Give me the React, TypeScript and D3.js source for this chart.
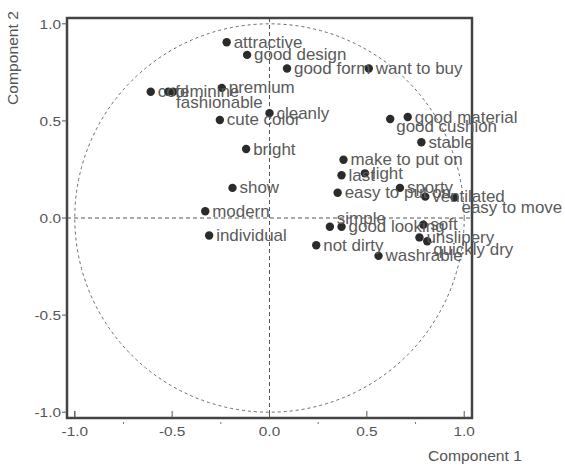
import React, { useEffect, useRef } from 'react';
import * as d3 from 'd3';

// loadings of each word on the first two components
const terms = [
  'attractive', 'good design', 'good form', 'want to buy', 'premium', 'cool', 'feminine', 'fashionable',
  'cleanly', 'cute color', 'bright', 'good cushion', 'good material', 'stable', 'make to put on', 'last',
  'light', 'easy to put on', 'sporty', 'ventilated', 'easy to move', 'show', 'modern', 'individual',
  'simple', 'good looking', 'soft', 'unslipery', 'quickly dry', 'not dirty', 'washrable',
];
const comp1 = [
  -0.22, -0.115, 0.09, 0.51, -0.245, -0.61, -0.52, -0.495,
  0.0, -0.255, -0.12, 0.62, 0.71, 0.78, 0.38, 0.37,
  0.49, 0.35, 0.67, 0.80, 0.95, -0.19, -0.33, -0.31,
  0.31, 0.37, 0.79, 0.77, 0.81, 0.24, 0.56,
];
const comp2 = [
  0.905, 0.84, 0.77, 0.77, 0.67, 0.65, 0.65, 0.65,
  0.54, 0.505, 0.355, 0.51, 0.52, 0.39, 0.30, 0.22,
  0.23, 0.13, 0.155, 0.11, 0.105, 0.155, 0.035, -0.09,
  -0.045, -0.045, -0.035, -0.10, -0.12, -0.14, -0.195,
];
const xTicks = [-1.0, -0.5, 0.0, 0.5, 1.0];
const yTicks = [-1.0, -0.5, 0.0, 0.5, 1.0];
const minorTicks = [-0.75, -0.25, 0.25, 0.75];

// labels nudged away from their neighbours
const nudge: Record<string, [number, number]> = {
  'fashionable': [3, 11],
  'good cushion': [6, 8],
  'easy to move': [7, 10],
  'simple': [7, -8],
  'quickly dry': [6, 8],
};

export default function App() {
  const ref = useRef<SVGSVGElement>(null);

  useEffect(() => {
    const svg = d3.select(ref.current);
    svg.selectAll('*').remove();

    const left = 67, right = 472, top = 18, bottom = 418;
    const x = d3.scaleLinear().domain([-1.04, 1.04]).range([left, right]);
    const y = d3.scaleLinear().domain([-1.03, 1.03]).range([bottom, top]);
    const font = 'Liberation Sans, Arial, sans-serif';
    const fmt = (t: number) => d3.format('.1f')(t).replace('−', '-');
    // the original text is a bit wide, so stretch glyphs sideways
    const wide = (px: number, py: number, k = 1.14) => `translate(${px},${py}) scale(${k},1)`;

    svg.append('rect').attr('width', 565).attr('height', 471).attr('fill', '#fff');

    // unit circle and zero lines
    svg.append('ellipse')
      .attr('cx', x(0)).attr('cy', y(0))
      .attr('rx', x(1) - x(0)).attr('ry', y(0) - y(1))
      .attr('fill', 'none').attr('stroke', '#6a6a6a').attr('stroke-width', 1)
      .attr('stroke-dasharray', '3,3');
    svg.append('line')
      .attr('x1', x(0)).attr('x2', x(0)).attr('y1', top).attr('y2', bottom)
      .attr('stroke', '#555').attr('stroke-dasharray', '4,3');
    svg.append('line')
      .attr('x1', left).attr('x2', right).attr('y1', y(0)).attr('y2', y(0))
      .attr('stroke', '#555').attr('stroke-dasharray', '4,3');

    // frame
    svg.append('rect')
      .attr('x', left).attr('y', top).attr('width', right - left).attr('height', bottom - top)
      .attr('fill', 'none').attr('stroke', '#444').attr('stroke-width', 2.5);

    // bottom axis: inward major ticks, small marks for minors
    const xg = svg.append('g').attr('font-family', font).attr('font-size', 13.5).attr('fill', '#555');
    xTicks.forEach(t => {
      xg.append('line').attr('x1', x(t)).attr('x2', x(t)).attr('y1', bottom).attr('y2', bottom - 7)
        .attr('stroke', '#555').attr('stroke-width', 1);
      xg.append('text').attr('transform', wide(x(t), bottom + 18)).attr('text-anchor', 'middle')
        .text(fmt(t));
    });
    minorTicks.forEach(t => {
      xg.append('rect').attr('x', x(t) - 0.5).attr('y', bottom + 4).attr('width', 1).attr('height', 2).attr('fill', '#777');
    });

    // left axis
    const yg = svg.append('g').attr('font-family', font).attr('font-size', 13.5).attr('fill', '#555');
    yTicks.forEach(t => {
      yg.append('line').attr('x1', left - 5).attr('x2', left).attr('y1', y(t)).attr('y2', y(t))
        .attr('stroke', '#555').attr('stroke-width', 1);
      yg.append('text').attr('transform', wide(left - 6, y(t) + 5)).attr('text-anchor', 'end')
        .text(fmt(t));
    });
    yg.append('line').attr('x1', x(-1)).attr('x2', x(-1)).attr('y1', bottom).attr('y2', bottom - 7)
      .attr('stroke', '#555');

    // axis titles
    svg.append('text').attr('transform', wide(475, 461, 1.08)).attr('text-anchor', 'middle')
      .attr('font-family', font).attr('font-size', 14.5).attr('fill', '#555').text('Component 1');
    svg.append('text').attr('transform', 'translate(18,58) rotate(-90) scale(1.08,1)').attr('text-anchor', 'middle')
      .attr('font-family', font).attr('font-size', 14.5).attr('fill', '#555').text('Component 2');

    // points and labels
    const data = terms.map((t, i) => ({ term: t, c1: comp1[i], c2: comp2[i] }));
    const pts = svg.append('g');
    pts.selectAll('circle').data(data).join('circle')
      .attr('cx', d => x(d.c1)).attr('cy', d => y(d.c2)).attr('r', 4.2)
      .attr('fill', '#2b2b2b');
    pts.selectAll('text').data(data).join('text')
      .attr('transform', d => wide(
        x(d.c1) + (nudge[d.term] ? nudge[d.term][0] : 7),
        y(d.c2) + (nudge[d.term] ? nudge[d.term][1] : 0) + 5.5,
        1.06))
      .attr('font-family', font).attr('font-size', 16).attr('fill', '#5a5a5a')
      .text(d => d.term);
  }, []);

  return (
    <svg ref={ref} width={565} height={471} style={{ position: 'absolute', left: 0, top: 0 }} />
  );
}
